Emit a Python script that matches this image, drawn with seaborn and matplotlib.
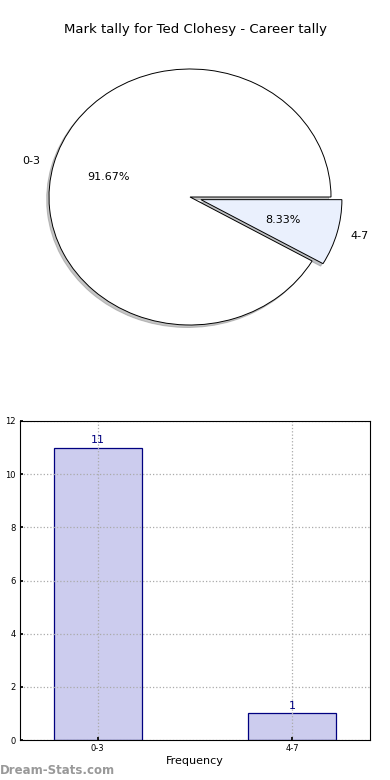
import matplotlib
matplotlib.use("Agg")
import matplotlib.pyplot as plt
import seaborn as sns
import pandas as pd

sns.set_theme(style="white")
plt.rcParams['font.family'] = ['DejaVu Sans']
plt.rcParams['text.color'] = 'black'
plt.rcParams['axes.labelcolor'] = 'black'
plt.rcParams['xtick.color'] = 'black'
plt.rcParams['ytick.color'] = 'black'

categories = ["0-3", "4-7"]
counts = [11, 1]
title = "Mark tally for Ted Clohesy - Career tally"
pie_colors = ["#ffffff", "#eaf0fd"]
bar_color = "#ccccee"
edge_color = "#000080"

W, H = 390, 780
fig = plt.figure(figsize=(W / 100, H / 100), dpi=100)

# Pie axes (elliptical pie)
axp = fig.add_axes([49 / W, (H - 325) / H, 282 / W, 256 / H])
wedges, texts, autotexts = axp.pie(
    counts, labels=categories, colors=pie_colors, explode=[0, 0.08],
    autopct="%.2f%%", startangle=0,
    shadow={'ox': -0.012, 'oy': -0.014, 'shade': 0.45},
    pctdistance=0.6, labeldistance=1.1,
    wedgeprops=dict(edgecolor="black", linewidth=0.7),
    textprops=dict(fontsize=8, color="black"))
axp.set_xlim(-1, 1)
axp.set_ylim(-1, 1)
axp.set_aspect("auto")
axp.axis("off")
fig.text(0.5, 1 - 30 / H, title, ha="center", va="center", fontsize=9.5)

# Bar axes
axb = fig.add_axes([20 / W, (H - 740) / H, 350 / W, 319 / H])
df = pd.DataFrame({"cat": categories, "count": counts})
sns.barplot(data=df, x="cat", y="count", ax=axb, color=bar_color,
            saturation=1, width=0.45, edgecolor=edge_color, linewidth=0.9)
axb.set_xlim(-0.4, 1.4)
axb.set_ylim(0, 12)
axb.set_yticks(range(0, 13, 2))
axb.grid(True, linestyle=":", color="#aaaaaa", linewidth=0.9)
axb.set_axisbelow(False)
for b in axb.patches:
    b.set_zorder(1)
axb.tick_params(labelsize=6, length=2, direction="in", pad=3)
axb.tick_params(axis="both", which="both", bottom=True, left=True)
for s in axb.spines.values():
    s.set_color("black")
    s.set_linewidth(0.8)
    s.set_zorder(5)
axb.set_xlabel("Frequency", fontsize=8, labelpad=2)
axb.set_ylabel("Mark Tally", fontsize=8)
axb.yaxis.set_label_coords(-0.07, 0.5)
for i, v in enumerate(counts):
    axb.text(i, v + 0.1, str(v), ha="center", va="bottom", fontsize=8,
             color=edge_color)

fig.text(0 / W, 1 - 771 / H, "Dream-Stats.com", ha="left", va="center",
         fontsize=8.5, color="#999999", fontweight="bold")

fig.savefig("out.png", dpi=100)
